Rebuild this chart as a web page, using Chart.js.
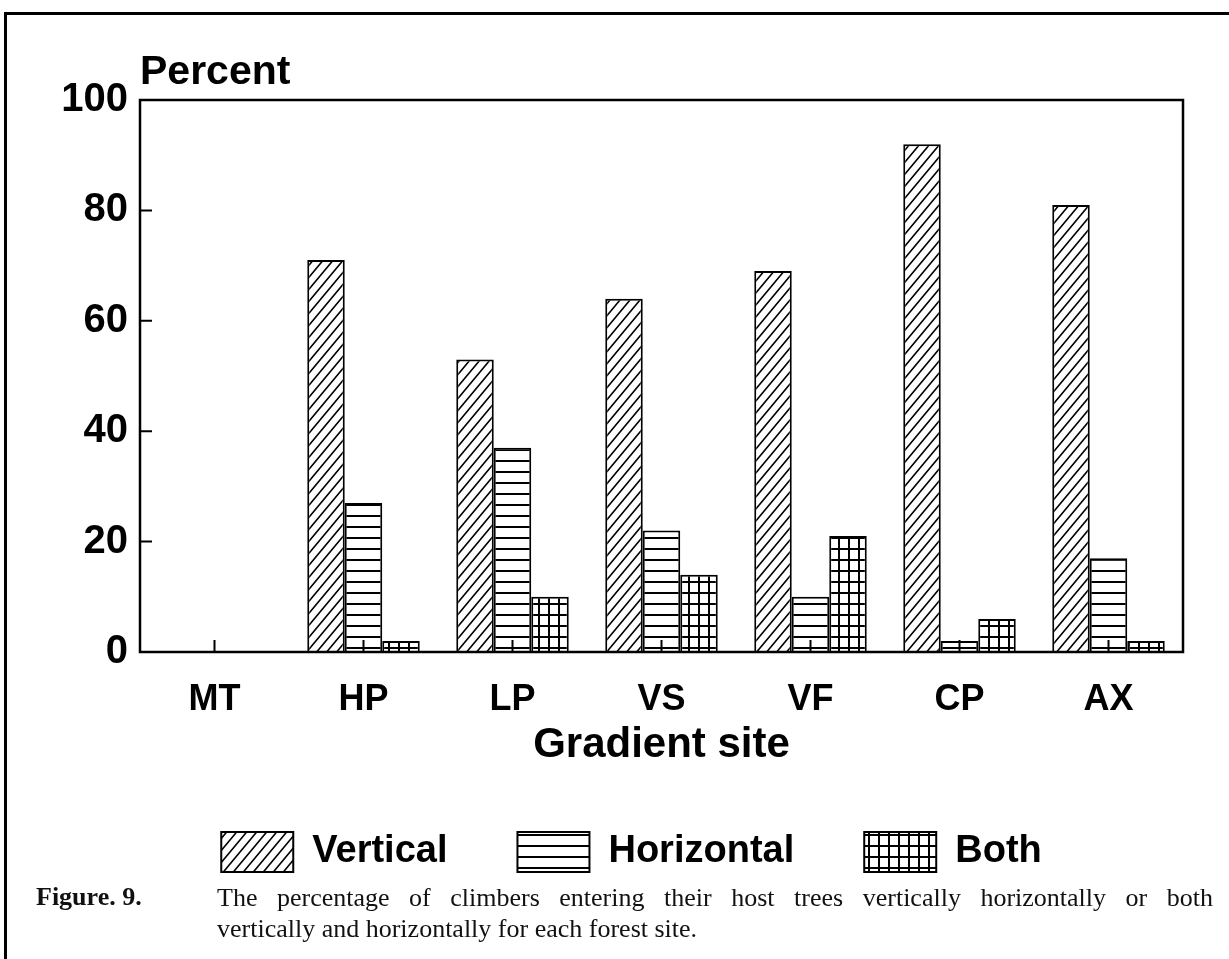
<!DOCTYPE html>
<html>
<head>
<meta charset="utf-8">
<script src="https://cdn.jsdelivr.net/npm/chart.js@4.4.1/dist/chart.umd.min.js"></script>
<style>
    body { margin: 0; background: #fff; width: 1229px; height: 959px; overflow: hidden; position: relative; }
    #frame { position: absolute; left: 4px; top: 12px; width: 1240px; height: 960px; border-left: 3px solid #000; border-top: 3px solid #000; }
    #myChart { position: absolute; left: 0; top: 0; }
    #figLabel { position: absolute; left: 36px; top: 882px; font-family: "Liberation Serif", serif; font-weight: bold; font-size: 26px; color: #111; }
    #figText { position: absolute; left: 217px; top: 882px; width: 996px; font-family: "Liberation Serif", serif; font-size: 26px; color: #111; line-height: 31px; }
    #figText .l1 { text-align: justify; text-align-last: justify; }
</style>
</head>
<body>
<div id="frame"></div>
<canvas id="myChart" width="1229" height="959"></canvas>
<div id="figLabel">Figure. 9.</div>
<div id="figText">
    <div class="l1">The percentage of climbers entering their host trees vertically horizontally or both</div>
    <div>vertically and horizontally for each forest site.</div>
</div>
<script>
var sites = ['MT', 'HP', 'LP', 'VS', 'VF', 'CP', 'AX'];
var vertical = [0, 71, 53, 64, 69, 92, 81];
var horizontal = [0, 27, 37, 22, 10, 2, 17];
var both = [0, 2, 10, 14, 21, 6, 2];
var yTicks = [0, 20, 40, 60, 80, 100];

function makePattern(kind) {
    var c = document.createElement('canvas');
    var w = 10, h = 12;
    if (kind === 'horiz') { w = 8; h = 11; }
    if (kind === 'grid') { w = 10; h = 11; }
    c.width = w;
    c.height = h;
    var g = c.getContext('2d');
    g.fillStyle = '#fff';
    g.fillRect(0, 0, w, h);
    g.fillStyle = '#000';
    g.strokeStyle = '#000';
    if (kind === 'diag') {
        g.lineWidth = 1.6;
        g.beginPath();
        g.moveTo(0, h); g.lineTo(w, 0);
        g.moveTo(-w, h); g.lineTo(w, -h);
        g.moveTo(0, 2 * h); g.lineTo(2 * w, 0);
        g.stroke();
    } else if (kind === 'horiz') {
        g.fillRect(0, h - 2, w, 2);
    } else {
        g.fillRect(0, h - 2, w, 2);
        g.fillRect(w - 2, 0, 2, h);
    }
    return g.createPattern(c, 'repeat');
}

var font = 'Liberation Sans';

// plot frame, inward tick marks and the "Percent" heading
var extras = {
    id: 'extras',
    afterLayout: function (chart) {
        // legend sits a bit right of centre in the original
        chart.legend.left += 30;
        chart.legend.right += 30;
    },
    afterDatasetsDraw: function (chart) {
        var ctx = chart.ctx, a = chart.chartArea;
        var x = chart.scales.x, y = chart.scales.y;
        ctx.save();
        ctx.strokeStyle = '#000';
        ctx.lineWidth = 2.5;
        ctx.strokeRect(a.left, a.top, a.right - a.left, a.bottom - a.top);
        ctx.lineWidth = 2;
        ctx.beginPath();
        yTicks.forEach(function (v) {
            if (v === 0 || v === 100) return;
            var py = y.getPixelForValue(v);
            ctx.moveTo(a.left, py);
            ctx.lineTo(a.left + 12, py);
        });
        sites.forEach(function (s, i) {
            var px = x.getPixelForValue(i);
            ctx.moveTo(px, a.bottom);
            ctx.lineTo(px, a.bottom - 12);
        });
        ctx.stroke();
        ctx.fillStyle = '#000';
        ctx.font = 'bold 41px "' + font + '"';
        ctx.textAlign = 'left';
        ctx.textBaseline = 'alphabetic';
        ctx.fillText('Percent', a.left, a.top - 16);
        ctx.restore();
    }
};

var ctx1 = document.getElementById('myChart').getContext('2d');
var myChart1 = new Chart(ctx1, {
    type: 'bar',
    data: {
        labels: sites,
        datasets: [{
                label: 'Vertical',
                data: vertical,
                backgroundColor: makePattern('diag'),
                borderColor: '#000',
                borderWidth: 2
            },
            {
                label: 'Horizontal',
                data: horizontal,
                backgroundColor: makePattern('horiz'),
                borderColor: '#000',
                borderWidth: 2
            },
            {
                label: 'Both',
                data: both,
                backgroundColor: makePattern('grid'),
                borderColor: '#000',
                borderWidth: 2
            }
        ]
    },
    options: {
        responsive: false,
        animation: false,
        layout: { padding: { left: 20, right: 46, top: 100, bottom: 77 } },
        datasets: { bar: { categoryPercentage: 0.755, barPercentage: 1 } },
        scales: {
            x: {
                grid: { display: false, drawTicks: false },
                border: { display: false },
                ticks: { color: '#000', padding: 26, font: { family: font, weight: 'bold', size: 36 } },
                title: {
                    display: true,
                    text: 'Gradient site',
                    color: '#000',
                    padding: { top: 0, bottom: -4 },
                    font: { family: font, weight: 'bold', size: 42, lineHeight: 1 }
                },
                afterFit: function (s) { s.height = 110; }
            },
            y: {
                min: 0,
                max: 100,
                grid: { display: false, drawTicks: false },
                border: { display: false },
                afterBuildTicks: function (s) {
                    s.ticks = yTicks.map(function (v) { return { value: v }; });
                },
                ticks: { color: '#000', padding: 12, font: { family: font, weight: 'bold', size: 40 } },
                afterFit: function (s) { s.width = 120; }
            }
        },
        plugins: {
            legend: {
                position: 'bottom',
                labels: {
                    boxWidth: 72,
                    boxHeight: 40,
                    padding: 70,
                    color: '#000',
                    font: { family: font, weight: 'bold', size: 38 }
                }
            },
            tooltip: { enabled: false }
        }
    },
    plugins: [extras]
});
</script>
</body>
</html>
